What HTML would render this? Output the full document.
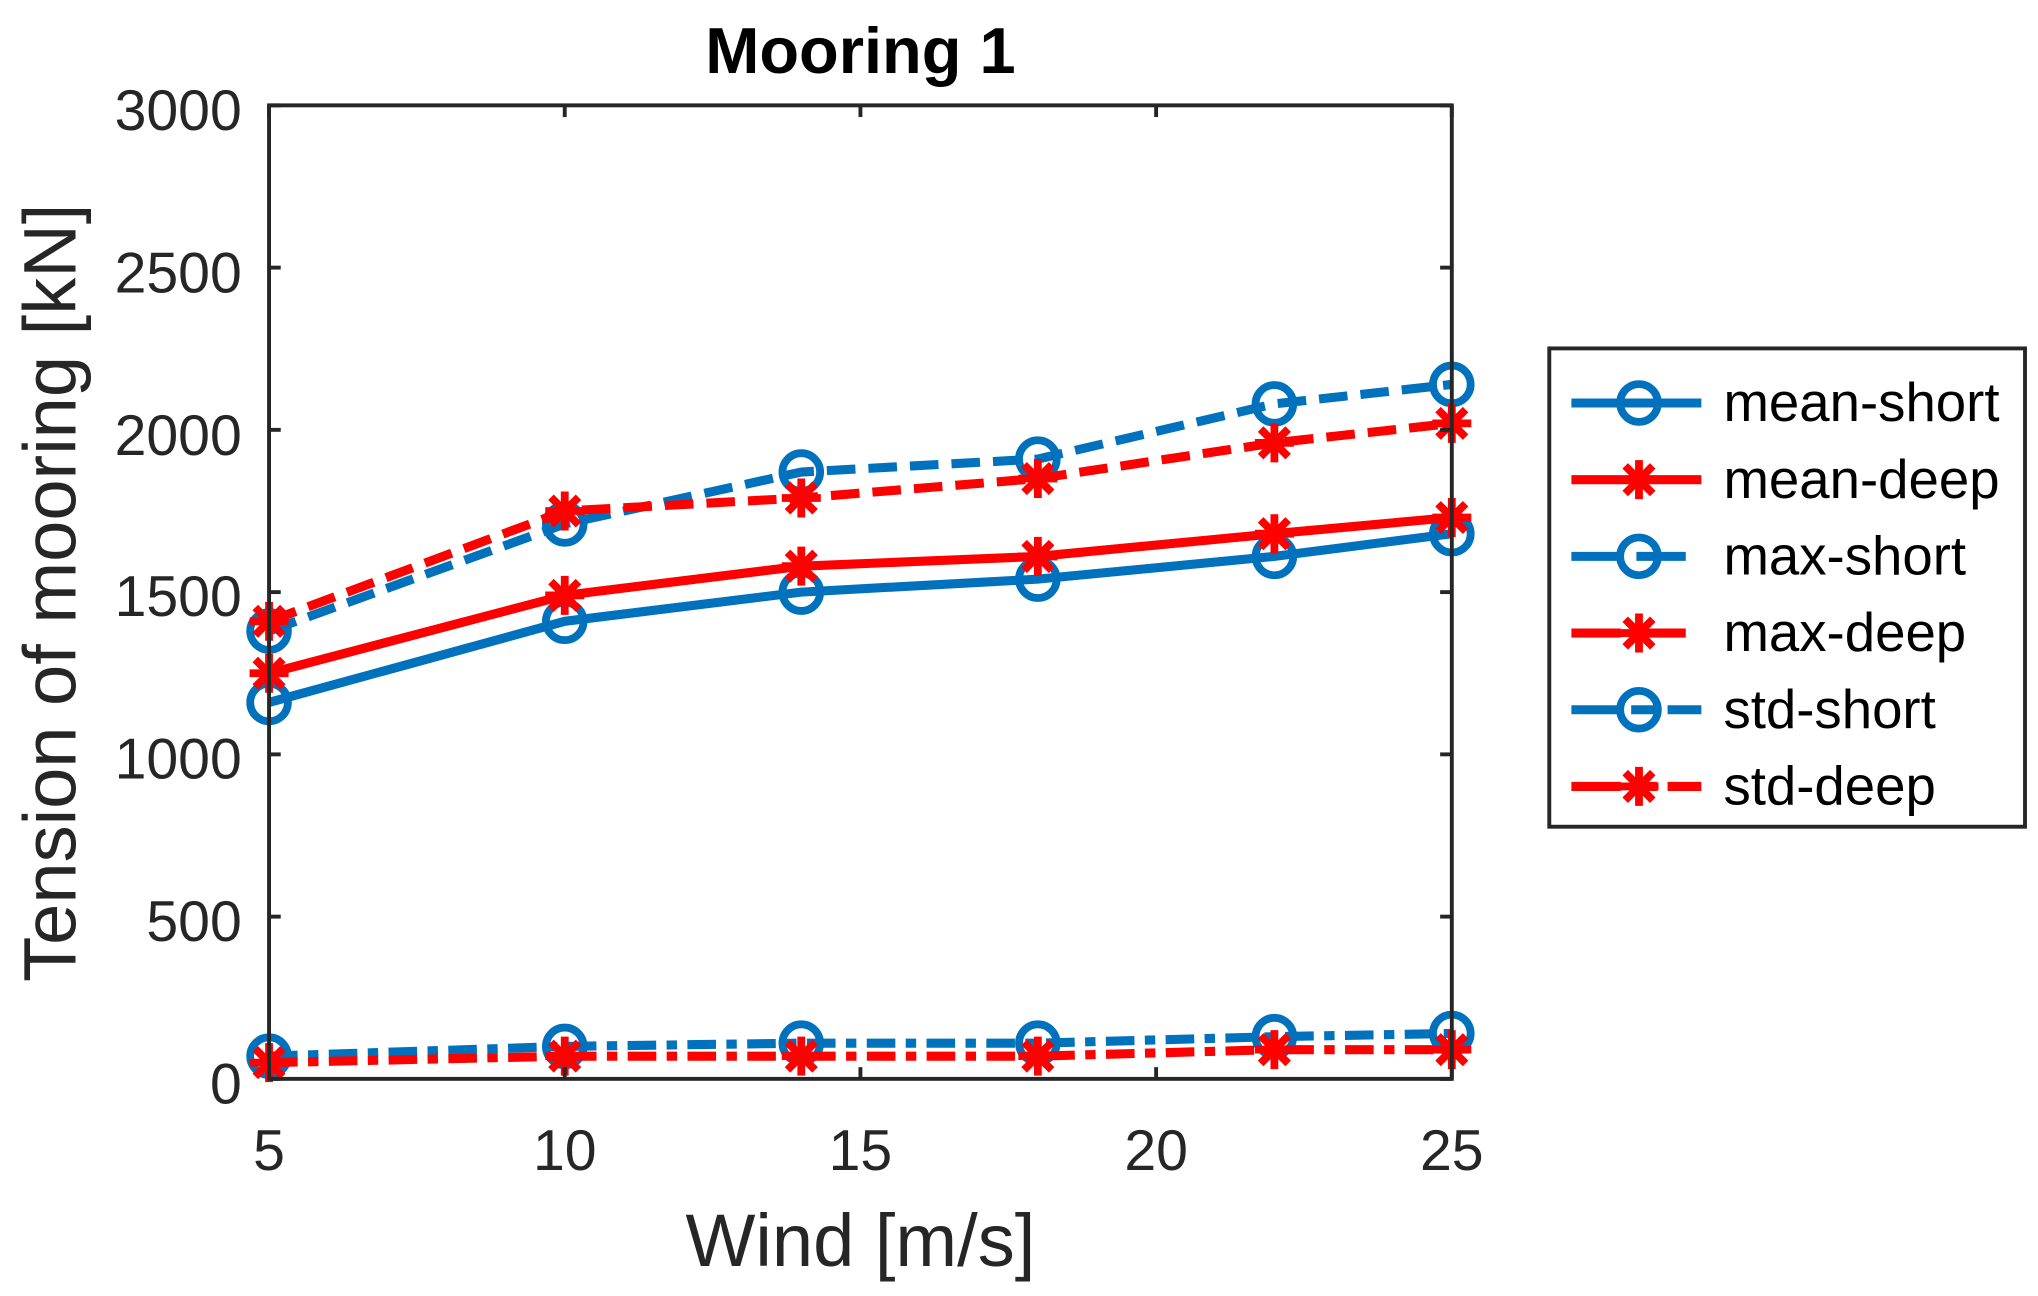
<!DOCTYPE html>
<html><head><meta charset="utf-8"><style>html,body{margin:0;padding:0;background:#fff}svg{display:block}</style></head>
<body>
<svg id="s" width="2038" height="1296" viewBox="0 0 1568 997" xmlns="http://www.w3.org/2000/svg" font-family="Liberation Sans, Arial, sans-serif">
<rect width="1568" height="997" fill="#fff"/>
<text x="662" y="56" font-size="50" font-weight="bold" text-anchor="middle" fill="#000">Mooring 1</text>
<g font-size="44" fill="#262626" text-anchor="end">
<text x="186" y="849">0</text><text x="186" y="724">500</text><text x="186" y="599">1000</text>
<text x="186" y="474">1500</text><text x="186" y="350">2000</text><text x="186" y="225">2500</text><text x="186" y="100">3000</text>
</g>
<g font-size="44" fill="#262626" text-anchor="middle">
<text x="207" y="900">5</text><text x="434.5" y="900">10</text><text x="662" y="900">15</text>
<text x="889.5" y="900">20</text><text x="1117" y="900">25</text>
</g>
<text x="662" y="974" font-size="57" fill="#262626" text-anchor="middle">Wind [m/s]</text>
<text transform="translate(58,456) rotate(-90)" font-size="57" fill="#262626" text-anchor="middle">Tension of mooring [kN]</text>
<g id="plot"></g>
<rect x="207" y="81" width="910" height="749" fill="none" stroke="#262626" stroke-width="3"/>
<g stroke="#262626" stroke-width="3" id="ticks"></g>
<rect x="1192" y="268" width="366" height="368" fill="#fff" stroke="#262626" stroke-width="3"/>
<g font-size="42" fill="#000">
<text x="1326" y="324">mean-short</text><text x="1326" y="383">mean-deep</text><text x="1326" y="442">max-short</text>
<text x="1326" y="501">max-deep</text><text x="1326" y="560">std-short</text><text x="1326" y="619">std-deep</text>
</g>
<g id="leg"></g>
</svg>
<script>
const NS="http://www.w3.org/2000/svg";
const X=v=>207+(v-5)*45.5, Y=v=>830-v*749/3000;
const xs=[5,10,14,18,22,25];
const B="#0072BD",R="#FF0000";
const dash={solid:"",dash:"22 10",dd:"22 8 8 8"};
const series=[
 [[1160,1410,1500,1540,1610,1680],B,"solid","o"],
 [[1250,1490,1580,1610,1680,1730],R,"solid","*"],
 [[1380,1710,1870,1910,2080,2140],B,"dash","o"],
 [[1410,1750,1790,1850,1960,2020],R,"dash","*"],
 [[70,100,110,110,130,140],B,"dd","o"],
 [[50,70,70,70,90,90],R,"dd","*"]];
function el(p,t,a){const e=document.createElementNS(NS,t);for(const k in a)e.setAttribute(k,a[k]);p.appendChild(e);return e;}
function marker(g,x,y,c,m){
 if(m=="o")el(g,"circle",{cx:x,cy:y,r:14.5,fill:"none",stroke:c,"stroke-width":6});
 else{const r=15,d=10.6;
  el(g,"path",{d:`M${x-r},${y}H${x+r}M${x},${y-r}V${y+r}M${x-d},${y-d}L${x+d},${y+d}M${x-d},${y+d}L${x+d},${y-d}`,stroke:c,"stroke-width":6,fill:"none"});}
}
const plot=document.getElementById("plot");
series.forEach(([d,c,ls,m])=>{
 el(plot,"polyline",{points:d.map((v,i)=>X(xs[i])+","+Y(v)).join(" "),fill:"none",stroke:c,"stroke-width":7,"stroke-dasharray":dash[ls],"stroke-linejoin":"round"});
 d.forEach((v,i)=>marker(plot,X(xs[i]),Y(v),c,m));
});
const tk=document.getElementById("ticks");
for(let v=0;v<=3000;v+=500){const y=Y(v);el(tk,"line",{x1:207,y1:y,x2:216,y2:y});el(tk,"line",{x1:1117,y1:y,x2:1108,y2:y});}
[5,10,15,20,25].forEach(v=>{const x=X(v);el(tk,"line",{x1:x,y1:830,x2:x,y2:821});el(tk,"line",{x1:x,y1:81,x2:x,y2:90});});
const lg=document.getElementById("leg");
series.forEach(([d,c,ls,m],i)=>{const y=310+i*59;
 el(lg,"line",{x1:1209,y1:y,x2:1309,y2:y,stroke:c,"stroke-width":7,"stroke-dasharray":ls=="dash"?"38 12":ls=="dd"?"38 8 20 8":""});
 marker(lg,1261,y,c,m);});
</script>
</body></html>
